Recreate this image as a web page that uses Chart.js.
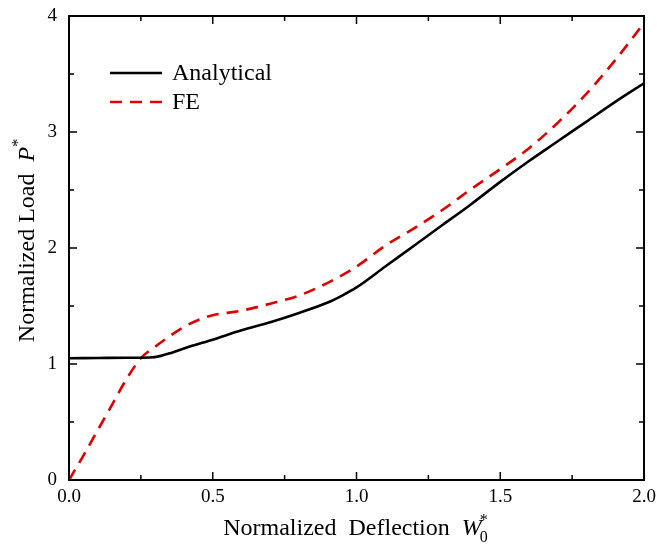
<!DOCTYPE html>
<html>
<head>
<meta charset="utf-8">
<script src="https://cdn.jsdelivr.net/npm/chart.js@4.4.0/dist/chart.umd.min.js"></script>
<style>
  html, body { margin: 0; padding: 0; background: #fff; }
  #wrap { width: 657px; height: 547px; position: relative; }
</style>
</head>
<body>
<div id="wrap"><canvas id="chart"></canvas></div>
<script>
// Analytical solution
const analyticalX = [0, 0.1, 0.2, 0.28, 0.32, 0.36, 0.42, 0.5, 0.6, 0.7, 0.8, 0.9, 0.95, 1.0, 1.1, 1.2, 1.3, 1.4, 1.5, 1.6, 1.7, 1.8, 1.9, 2.0];
const analyticalY = [1.05, 1.052, 1.054, 1.056, 1.07, 1.10, 1.15, 1.21, 1.29, 1.36, 1.44, 1.53, 1.59, 1.66, 1.84, 2.02, 2.20, 2.38, 2.57, 2.75, 2.92, 3.09, 3.26, 3.42];

// FE results
const feX = [0, 0.05, 0.1, 0.15, 0.2, 0.25, 0.3, 0.35, 0.4, 0.45, 0.5, 0.6, 0.7, 0.8, 0.9, 1.0, 1.1, 1.2, 1.3, 1.4, 1.5, 1.6, 1.7, 1.8, 1.9, 2.0];
const feY = [0, 0.21, 0.43, 0.65, 0.87, 1.05, 1.15, 1.24, 1.32, 1.38, 1.42, 1.46, 1.52, 1.59, 1.70, 1.84, 2.02, 2.17, 2.33, 2.51, 2.68, 2.86, 3.08, 3.33, 3.62, 3.94];

const xTicks = [0, 0.5, 1.0, 1.5, 2.0];
const yTicks = [0, 1, 2, 3, 4];
const seriesNames = ['Analytical', 'FE'];

const FONT = '"Liberation Serif", "Times New Roman", serif';

function toPoints(xs, ys) {
  return xs.map((x, i) => ({ x, y: ys[i] }));
}

// frame, inward ticks, axis titles and legend
const framePlugin = {
  id: 'frame',
  afterDraw(chart) {
    const { ctx, chartArea: a, scales } = chart;
    const xs = scales.x, ys = scales.y;
    ctx.save();
    ctx.strokeStyle = '#000';
    ctx.lineWidth = 2;
    ctx.strokeRect(a.left, a.top, a.right - a.left, a.bottom - a.top);

    ctx.lineWidth = 1.5;
    ctx.beginPath();
    for (let v = 0; v <= 2.0001; v += 0.25) {
      const px = xs.getPixelForValue(v);
      const len = Math.abs(v * 2 - Math.round(v * 2)) < 1e-6 ? 8 : 5;
      ctx.moveTo(px, a.bottom); ctx.lineTo(px, a.bottom - len);
      ctx.moveTo(px, a.top); ctx.lineTo(px, a.top + len);
    }
    for (let v = 0; v <= 4.0001; v += 0.5) {
      const py = ys.getPixelForValue(v);
      const len = Math.abs(v - Math.round(v)) < 1e-6 ? 8 : 5;
      ctx.moveTo(a.left, py); ctx.lineTo(a.left + len, py);
      ctx.moveTo(a.right, py); ctx.lineTo(a.right - len, py);
    }
    ctx.stroke();

    // x title
    ctx.fillStyle = '#000';
    ctx.textBaseline = 'alphabetic';
    const base = '24px ' + FONT;
    const ital = 'italic 24px ' + FONT;
    const small = '16px ' + FONT;
    ctx.font = base;
    const t1 = 'Normalized  Deflection  ';
    const w1 = ctx.measureText(t1).width;
    ctx.font = ital;
    const wW = ctx.measureText('W').width;
    const total = w1 + wW + 9;
    const x0 = 357 - total / 2;
    const yb = 535;
    ctx.font = base;
    ctx.fillText(t1, x0, yb);
    ctx.font = ital;
    ctx.fillText('W', x0 + w1, yb);
    ctx.font = small;
    ctx.fillText('0', x0 + w1 + wW - 2, yb + 7);
    ctx.fillText('*', x0 + w1 + wW - 2, yb - 10);

    // y title
    ctx.save();
    ctx.translate(34, 241);
    ctx.rotate(-Math.PI / 2);
    ctx.font = base;
    const t2 = 'Normalized Load  ';
    const w2 = ctx.measureText(t2).width;
    ctx.font = ital;
    const wP = ctx.measureText('P').width;
    const tot2 = w2 + wP + 7;
    const s = -tot2 / 2;
    ctx.font = base;
    ctx.fillText(t2, s, 0);
    ctx.font = ital;
    ctx.fillText('P', s + w2, 0);
    ctx.font = small;
    ctx.fillText('*', s + w2 + wP, -11);
    ctx.restore();

    // legend
    const items = [
      { name: seriesNames[0], color: '#000', dash: [] },
      { name: seriesNames[1], color: '#e00000', dash: [12, 8] }
    ];
    items.forEach((it, i) => {
      const ly = 73 + i * 29;
      ctx.strokeStyle = it.color;
      ctx.lineWidth = 2.5;
      ctx.setLineDash(it.dash);
      ctx.beginPath();
      ctx.moveTo(110, ly); ctx.lineTo(162, ly);
      ctx.stroke();
      ctx.setLineDash([]);
      ctx.font = base;
      ctx.fillStyle = '#000';
      ctx.textBaseline = 'middle';
      ctx.fillText(it.name, 172, ly + 1);
    });
    ctx.restore();
  }
};

new Chart(document.getElementById('chart'), {
  type: 'line',
  data: {
    datasets: [
      {
        label: seriesNames[0],
        data: toPoints(analyticalX, analyticalY),
        borderColor: '#000',
        borderWidth: 2.6,
        pointRadius: 0,
        cubicInterpolationMode: 'monotone',
        fill: false
      },
      {
        label: seriesNames[1],
        data: toPoints(feX, feY),
        borderColor: '#e00000',
        borderWidth: 2.6,
        borderDash: [12, 8],
        pointRadius: 0,
        cubicInterpolationMode: 'monotone',
        fill: false
      }
    ]
  },
  options: {
    responsive: true,
    maintainAspectRatio: false,
    animation: false,
    layout: { padding: { top: 16, right: 13, left: 0, bottom: 0 } },
    plugins: {
      legend: { display: false },
      tooltip: { enabled: false }
    },
    scales: {
      x: {
        type: 'linear',
        min: 0,
        max: 2,
        afterBuildTicks: (sc) => { sc.ticks = xTicks.map(v => ({ value: v })); },
        afterFit: (sc) => { sc.height = 67; sc.paddingRight = 0; sc.paddingLeft = 0; },
        grid: { display: false, drawTicks: false },
        border: { display: false },
        ticks: {
          padding: 6,
          color: '#000',
          font: { family: FONT, size: 19 },
          callback: (v) => Number(v).toFixed(1),
          maxRotation: 0
        }
      },
      y: {
        type: 'linear',
        min: 0,
        max: 4,
        afterBuildTicks: (sc) => { sc.ticks = yTicks.map(v => ({ value: v })); },
        afterFit: (sc) => { sc.width = 69; sc.paddingTop = 0; sc.paddingBottom = 0; },
        grid: { display: false, drawTicks: false },
        border: { display: false },
        ticks: {
          padding: 12,
          color: '#000',
          font: { family: FONT, size: 19 },
          callback: (v) => String(v)
        }
      }
    }
  },
  plugins: [framePlugin]
});
</script>
</body>
</html>
